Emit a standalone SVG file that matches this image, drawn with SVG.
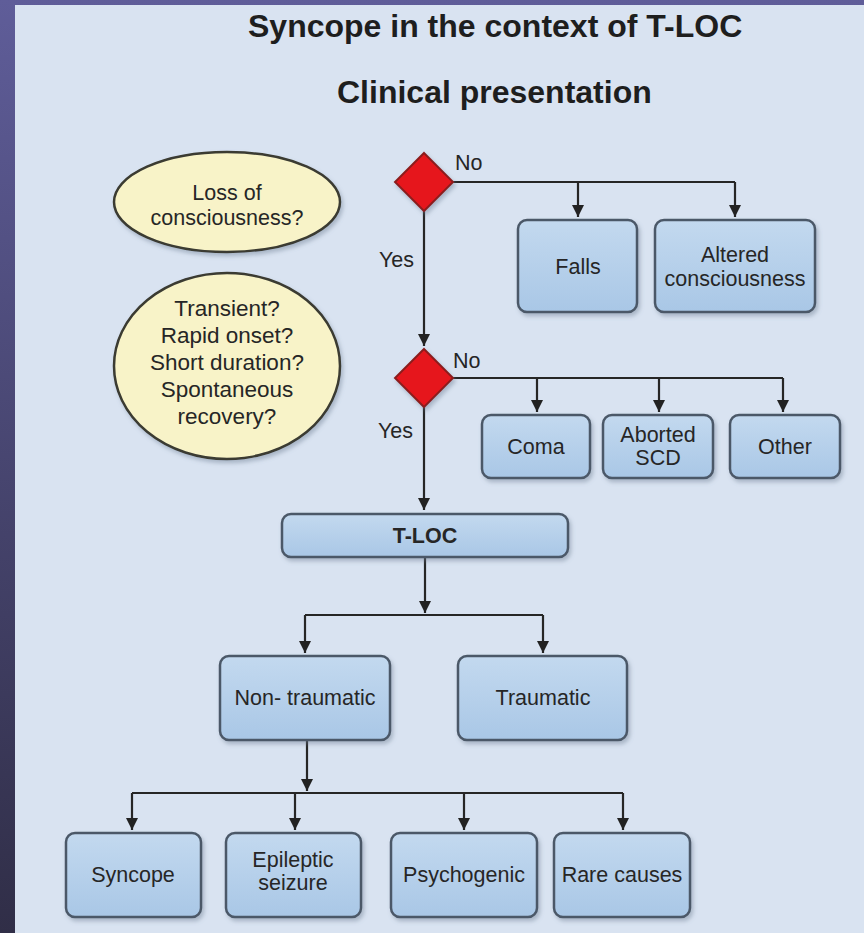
<svg xmlns="http://www.w3.org/2000/svg" width="864" height="933" viewBox="0 0 864 933">
<defs>
<linearGradient id="frame" x1="0" y1="0" x2="0" y2="1">
<stop offset="0" stop-color="#5f5d99"/>
<stop offset="1" stop-color="#302e47"/>
</linearGradient>
<linearGradient id="box" x1="0" y1="0" x2="0" y2="1">
<stop offset="0" stop-color="#c3d9ef"/>
<stop offset="1" stop-color="#a9c7e6"/>
</linearGradient>
<filter id="sh" x="-10%" y="-10%" width="130%" height="130%">
<feDropShadow dx="2" dy="3" stdDeviation="2" flood-color="#6a7a90" flood-opacity="0.45"/>
</filter>
<marker id="ah" viewBox="0 0 12 12" refX="12" refY="6" markerWidth="12" markerHeight="12" markerUnits="userSpaceOnUse" orient="auto">
<path d="M0,0 L12,6 L0,12 z" fill="#222"/>
</marker>
<style>
.t{font-family:"Liberation Sans",Arial,sans-serif;fill:#262626;text-anchor:middle}
.lbl{font-size:21.5px}
.title{font-size:32px;font-weight:bold;fill:#1e1e1e;text-anchor:start}
.yn{font-family:"Liberation Sans",Arial,sans-serif;fill:#262626;font-size:21.5px}
.b{fill:url(#box);stroke:#4b5868;stroke-width:2.5;filter:url(#sh)}
.ell{fill:#f8f3c8;stroke:#3a3a30;stroke-width:2.5;filter:url(#sh)}
.dia{fill:#e6151b;stroke:#8c1d1d;stroke-width:2;filter:url(#sh)}
.c{fill:none;stroke:#262626;stroke-width:2.2}
.a{marker-end:url(#ah)}
</style>
</defs>
<rect x="0" y="0" width="864" height="933" fill="url(#frame)"/>
<rect x="15" y="5" width="849" height="928" fill="#d9e3f1"/>

<g id="titles">
<text class="t title" x="248" y="37">Syncope in the context of T-LOC</text>
<text class="t title" x="337" y="103">Clinical presentation</text>
</g>

<g id="connectors">
<polyline class="c" points="453,182 735,182"/>
<line class="c a" x1="578" y1="182" x2="578" y2="217"/>
<line class="c a" x1="735" y1="182" x2="735" y2="217"/>
<line class="c a" x1="424" y1="211" x2="424" y2="346"/>
<polyline class="c" points="453,378 783,378"/>
<line class="c a" x1="537" y1="378" x2="537" y2="412"/>
<line class="c a" x1="659" y1="378" x2="659" y2="412"/>
<line class="c a" x1="783" y1="378" x2="783" y2="412"/>
<line class="c a" x1="424" y1="407" x2="424" y2="510"/>
<line class="c a" x1="425" y1="557" x2="425" y2="613"/>
<polyline class="c" points="305,615 543,615"/>
<line class="c a" x1="305" y1="615" x2="305" y2="653"/>
<line class="c a" x1="543" y1="615" x2="543" y2="653"/>
<line class="c a" x1="307" y1="740" x2="307" y2="791"/>
<polyline class="c" points="132,793 623,793"/>
<line class="c a" x1="132" y1="793" x2="132" y2="830"/>
<line class="c a" x1="295" y1="793" x2="295" y2="830"/>
<line class="c a" x1="464" y1="793" x2="464" y2="830"/>
<line class="c a" x1="623" y1="793" x2="623" y2="830"/>
<text class="yn" x="455" y="170">No</text>
<text class="yn" x="414" y="267" text-anchor="end">Yes</text>
<text class="yn" x="453" y="368">No</text>
<text class="yn" x="413" y="438" text-anchor="end">Yes</text>
</g>

<g id="q-loss">
<ellipse class="ell" cx="227" cy="202" rx="113" ry="50"/>
<text class="t lbl" x="227" y="200">Loss of</text>
<text class="t lbl" x="227" y="225">consciousness?</text>
</g>

<g id="q-transient">
<ellipse class="ell" cx="227" cy="366" rx="113" ry="93"/>
<text class="t" style="font-size:22.5px" x="227" y="316">Transient?</text>
<text class="t" style="font-size:22.5px" x="227" y="343">Rapid onset?</text>
<text class="t" style="font-size:22.5px" x="227" y="370">Short duration?</text>
<text class="t" style="font-size:22.5px" x="227" y="397">Spontaneous</text>
<text class="t" style="font-size:22.5px" x="227" y="424">recovery?</text>
</g>

<g id="d1">
<polygon class="dia" points="424,153 453,182 424,211 395,182"/>
</g>
<g id="d2">
<polygon class="dia" points="424,349 453,378 424,407 395,378"/>
</g>

<g id="falls">
<rect class="b" x="518" y="220" width="119" height="92" rx="9"/>
<text class="t lbl" x="578" y="274">Falls</text>
</g>
<g id="altered">
<rect class="b" x="655" y="220" width="160" height="92" rx="9"/>
<text class="t lbl" x="735" y="262">Altered</text>
<text class="t lbl" x="735" y="286">consciousness</text>
</g>

<g id="coma">
<rect class="b" x="482" y="415" width="108" height="63" rx="9"/>
<text class="t lbl" x="536" y="454">Coma</text>
</g>
<g id="scd">
<rect class="b" x="603" y="415" width="110" height="63" rx="9"/>
<text class="t lbl" x="658" y="442">Aborted</text>
<text class="t lbl" x="658" y="465">SCD</text>
</g>
<g id="other">
<rect class="b" x="730" y="415" width="110" height="63" rx="9"/>
<text class="t lbl" x="785" y="454">Other</text>
</g>

<g id="tloc">
<rect class="b" x="282" y="514" width="286" height="43" rx="9"/>
<text class="t lbl" x="425" y="543" style="font-weight:bold">T-LOC</text>
</g>

<g id="nontraumatic">
<rect class="b" x="220" y="656" width="170" height="84" rx="9"/>
<text class="t lbl" x="305" y="705">Non- traumatic</text>
</g>
<g id="traumatic">
<rect class="b" x="458" y="656" width="169" height="84" rx="9"/>
<text class="t lbl" x="543" y="705">Traumatic</text>
</g>

<g id="syncope">
<rect class="b" x="66" y="833" width="135" height="84" rx="9"/>
<text class="t lbl" x="133" y="882">Syncope</text>
</g>
<g id="epileptic">
<rect class="b" x="226" y="833" width="135" height="84" rx="9"/>
<text class="t lbl" x="293" y="867">Epileptic</text>
<text class="t lbl" x="293" y="890">seizure</text>
</g>
<g id="psychogenic">
<rect class="b" x="391" y="833" width="146" height="84" rx="9"/>
<text class="t lbl" x="464" y="882">Psychogenic</text>
</g>
<g id="rare">
<rect class="b" x="554" y="833" width="136" height="84" rx="9"/>
<text class="t lbl" x="622" y="882">Rare causes</text>
</g>
</svg>
